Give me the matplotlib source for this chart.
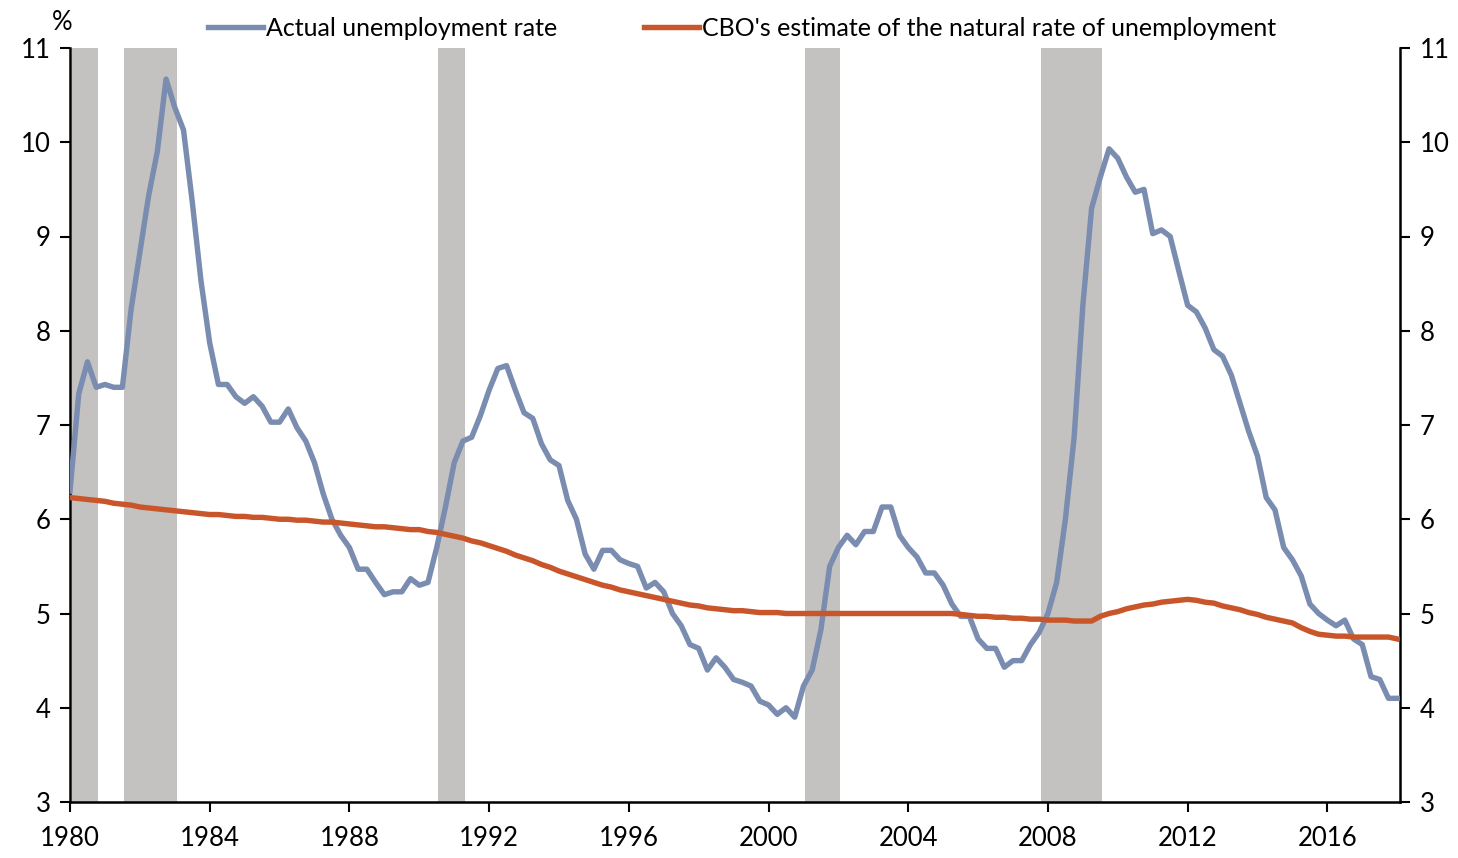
import numpy as np
import matplotlib
matplotlib.use("Agg")
import matplotlib.pyplot as plt

plt.rcParams['font.family'] = ['Lato', 'DejaVu Sans']

# Quarterly observations, 1980Q1 .. 2018Q1
start_year = 1980
actual_rate = [
    6.30, 7.33, 7.67, 7.40,   # 1980
    7.43, 7.40, 7.40, 8.23,   # 1981
    8.83, 9.43, 9.90, 10.67,  # 1982
    10.37, 10.13, 9.37, 8.53, # 1983
    7.87, 7.43, 7.43, 7.30,   # 1984
    7.23, 7.30, 7.20, 7.03,   # 1985
    7.03, 7.17, 6.97, 6.83,   # 1986
    6.60, 6.27, 6.00, 5.83,   # 1987
    5.70, 5.47, 5.47, 5.33,   # 1988
    5.20, 5.23, 5.23, 5.37,   # 1989
    5.30, 5.33, 5.70, 6.13,   # 1990
    6.60, 6.83, 6.87, 7.10,   # 1991
    7.37, 7.60, 7.63, 7.37,   # 1992
    7.13, 7.07, 6.80, 6.63,   # 1993
    6.57, 6.20, 6.00, 5.63,   # 1994
    5.47, 5.67, 5.67, 5.57,   # 1995
    5.53, 5.50, 5.27, 5.33,   # 1996
    5.23, 5.00, 4.87, 4.67,   # 1997
    4.63, 4.40, 4.53, 4.43,   # 1998
    4.30, 4.27, 4.23, 4.07,   # 1999
    4.03, 3.93, 4.00, 3.90,   # 2000
    4.23, 4.40, 4.83, 5.50,   # 2001
    5.70, 5.83, 5.73, 5.87,   # 2002
    5.87, 6.13, 6.13, 5.83,   # 2003
    5.70, 5.60, 5.43, 5.43,   # 2004
    5.30, 5.10, 4.97, 4.97,   # 2005
    4.73, 4.63, 4.63, 4.43,   # 2006
    4.50, 4.50, 4.67, 4.80,   # 2007
    5.00, 5.33, 6.00, 6.87,   # 2008
    8.27, 9.30, 9.63, 9.93,   # 2009
    9.83, 9.63, 9.47, 9.50,   # 2010
    9.03, 9.07, 9.00, 8.63,   # 2011
    8.27, 8.20, 8.03, 7.80,   # 2012
    7.73, 7.53, 7.23, 6.93,   # 2013
    6.67, 6.23, 6.10, 5.70,   # 2014
    5.57, 5.40, 5.10, 5.00,   # 2015
    4.93, 4.87, 4.93, 4.73,   # 2016
    4.67, 4.33, 4.30, 4.10,   # 2017
    4.10,                     # 2018
]

natural_rate = [
    6.23, 6.22, 6.21, 6.20,   # 1980
    6.19, 6.17, 6.16, 6.15,   # 1981
    6.13, 6.12, 6.11, 6.10,   # 1982
    6.09, 6.08, 6.07, 6.06,   # 1983
    6.05, 6.05, 6.04, 6.03,   # 1984
    6.03, 6.02, 6.02, 6.01,   # 1985
    6.00, 6.00, 5.99, 5.99,   # 1986
    5.98, 5.97, 5.97, 5.96,   # 1987
    5.95, 5.94, 5.93, 5.92,   # 1988
    5.92, 5.91, 5.90, 5.89,   # 1989
    5.89, 5.87, 5.86, 5.84,   # 1990
    5.82, 5.80, 5.77, 5.75,   # 1991
    5.72, 5.69, 5.66, 5.62,   # 1992
    5.59, 5.56, 5.52, 5.49,   # 1993
    5.45, 5.42, 5.39, 5.36,   # 1994
    5.33, 5.30, 5.28, 5.25,   # 1995
    5.23, 5.21, 5.19, 5.17,   # 1996
    5.15, 5.13, 5.11, 5.09,   # 1997
    5.08, 5.06, 5.05, 5.04,   # 1998
    5.03, 5.03, 5.02, 5.01,   # 1999
    5.01, 5.01, 5.00, 5.00,   # 2000
    5.00, 5.00, 5.00, 5.00,   # 2001
    5.00, 5.00, 5.00, 5.00,   # 2002
    5.00, 5.00, 5.00, 5.00,   # 2003
    5.00, 5.00, 5.00, 5.00,   # 2004
    5.00, 5.00, 4.99, 4.98,   # 2005
    4.97, 4.97, 4.96, 4.96,   # 2006
    4.95, 4.95, 4.94, 4.94,   # 2007
    4.93, 4.93, 4.93, 4.92,   # 2008
    4.92, 4.92, 4.97, 5.00,   # 2009
    5.02, 5.05, 5.07, 5.09,   # 2010
    5.10, 5.12, 5.13, 5.14,   # 2011
    5.15, 5.14, 5.12, 5.11,   # 2012
    5.08, 5.06, 5.04, 5.01,   # 2013
    4.99, 4.96, 4.94, 4.92,   # 2014
    4.90, 4.85, 4.81, 4.78,   # 2015
    4.77, 4.76, 4.76, 4.75,   # 2016
    4.75, 4.75, 4.75, 4.75,   # 2017
    4.73,                     # 2018
]

# recessions (start, end) in fractional years
recession_start = [1980.0, 1981.5, 1990.5, 2001.0, 2007.75]
recession_end = [1980.75, 1983.0, 1991.25, 2002.0, 2009.5]

year_ticks = list(range(1980, 2017, 4))
pct_ticks = list(range(3, 12))

quarters = start_year + np.arange(len(actual_rate)) / 4.0

fig = plt.figure(figsize=(14.58, 8.58), dpi=100)
ax = fig.add_axes([70 / 1458, 1 - 802 / 858, 1330 / 1458, 754 / 858])

for s, e in zip(recession_start, recession_end):
    ax.axvspan(s + 0.05, e + 0.05, color='#c3c2c0', lw=0, zorder=0)

ax.plot(quarters, actual_rate, color='#7a8db0', lw=3.9, zorder=3,
        label='Actual unemployment rate')
ax.plot(quarters, natural_rate, color='#c9562b', lw=3.9, zorder=4,
        label="CBO's estimate of the natural rate of unemployment")

ax.set_xlim(1980, 2018.08)
ax.set_ylim(3, 11)
ax.set_xticks(year_ticks)
ax.set_yticks(pct_ticks)

ax.spines['top'].set_visible(False)
for side in ['left', 'right', 'bottom']:
    ax.spines[side].set_linewidth(1.8)
    ax.spines[side].set_color('black')

ax.tick_params(axis='y', direction='out', length=7, width=1.5, left=True, right=True,
               labelleft=True, labelright=True, labelsize=18.5, pad=7)
ax.tick_params(axis='x', direction='out', length=7, width=1.5, labelsize=18.5, pad=10)

fig.text(62 / 1458, 1 - 22 / 858, '%', fontsize=18.5, ha='center', va='center')

fig.legend(loc='center', bbox_to_anchor=(742 / 1458, 1 - 28 / 858), ncol=2,
           frameon=False, fontsize=18, handlelength=2.2, handletextpad=0.1,
           columnspacing=3.5)

fig.savefig('out.png', dpi=100)
